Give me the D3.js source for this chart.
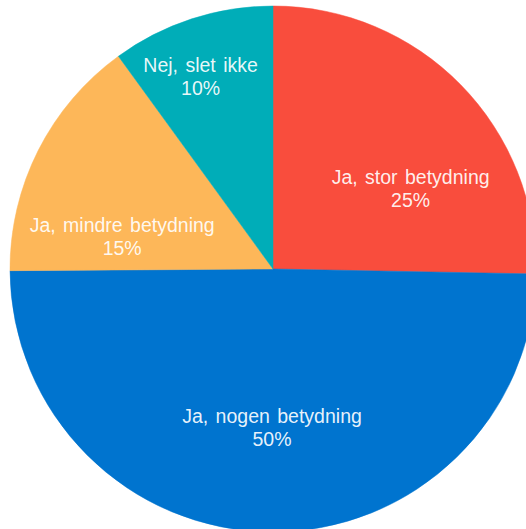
<!DOCTYPE html>
<html>
<head>
<meta charset="utf-8">
<script src="https://cdn.jsdelivr.net/npm/d3@7"></script>
<style>
  html, body { margin: 0; padding: 0; background: #fff; }
  svg { display: block; }
</style>
</head>
<body>
<svg width="526" height="529"></svg>
<script>
var svg = d3.select('svg');

// data
var categories = ['Ja, stor betydning', 'Ja, nogen betydning', 'Ja, mindre betydning', 'Nej, slet ikke'];
var values = [25.3, 49.6, 15.1, 10.0];
var colors = ['#f94d3d', '#0074cf', '#fdb759', '#00adb8'];

// label nudges (px) from the arc centroid, so text sits where the original put it
var nudge = [[25, 31], [0, 1], [-10, 39], [-9, 3]];

var cx = 273, cy = 269, radius = 263;

var pie = d3.pie().sort(null).value(function(d){ return d.value; });
var arc = d3.arc().innerRadius(0).outerRadius(radius);
var labelArc = d3.arc().innerRadius(radius * 0.6).outerRadius(radius * 0.6);
var tealArc = d3.arc().innerRadius(radius * 0.78).outerRadius(radius * 0.78);

var data = categories.map(function(c, i){
    return {name: c, value: values[i], color: colors[i], idx: i};
});
var total = d3.sum(values);

var g = svg.append('g').attr('transform', 'translate(' + cx + ',' + cy + ')');

var slices = pie(data);

g.selectAll('path')
    .data(slices)
    .enter()
    .append('path')
    .attr('d', arc)
    .attr('fill', function(d){ return d.data.color; })
    .attr('stroke', function(d){ return d.data.color; })
    .attr('stroke-width', 0.5);

var labels = g.selectAll('text.lbl')
    .data(slices)
    .enter()
    .append('text')
    .attr('class', 'lbl')
    .attr('transform', function(d){
        var c = (d.data.idx === 3 ? tealArc : labelArc).centroid(d);
        var n = nudge[d.data.idx];
        return 'translate(' + (c[0] + n[0]) + ',' + (c[1] + n[1]) + ')';
    })
    .attr('text-anchor', 'middle')
    .attr('font-family', 'Liberation Sans, Arial, sans-serif')
    .attr('font-size', '19.5px')
    .attr('word-spacing', '2px')
    .attr('fill', '#fff')
    .attr('fill-opacity', 0.92);

labels.append('tspan')
    .attr('x', 0)
    .attr('y', -5)
    .text(function(d){ return d.data.name; });

labels.append('tspan')
    .attr('x', 0)
    .attr('y', 18)
    .text(function(d){ return Math.round(d.data.value / total * 100) + '%'; });
</script>
</body>
</html>
